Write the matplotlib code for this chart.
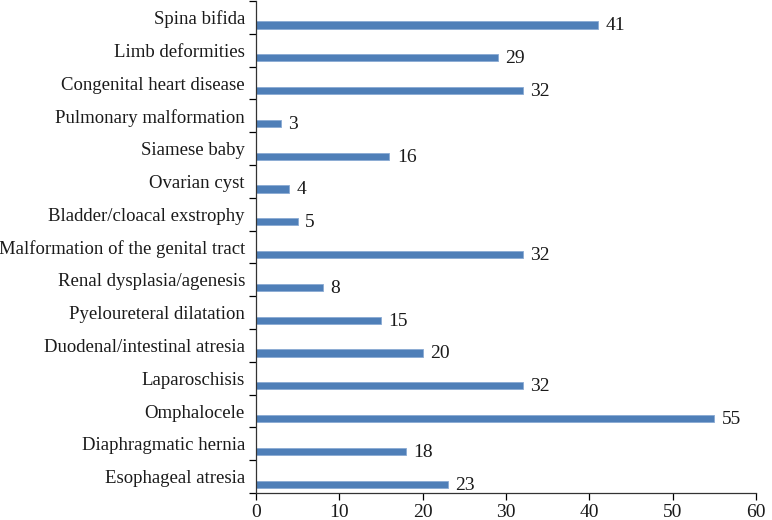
import matplotlib.pyplot as plt
import numpy as np

# categories from bottom to top
categories = [
    'Esophageal atresia',
    'Diaphragmatic hernia',
    'Omphalocele',
    'Laparoschisis',
    'Duodenal/intestinal atresia',
    'Pyeloureteral dilatation',
    'Renal dysplasia/agenesis',
    'Malformation of the genital tract',
    'Bladder/cloacal exstrophy',
    'Ovarian cyst',
    'Siamese baby',
    'Pulmonary malformation',
    'Congenital heart disease',
    'Limb deformities',
    'Spina bifida',
]
counts = [23, 18, 55, 32, 20, 15, 8, 32, 5, 4, 16, 3, 32, 29, 41]
x_ticks = [0, 10, 20, 30, 40, 50, 60]

plt.rcParams['font.family'] = ['Liberation Serif', 'DejaVu Serif']

fig = plt.figure(figsize=(7.72, 5.2), dpi=100)
ax = fig.add_axes([256 / 772, 27 / 520, 500 / 772, 492 / 520])

pos = np.arange(len(categories))
ax.barh(pos - 0.23, counts, height=0.22, color='#4f7fb8', edgecolor='#8aaad3',
        linewidth=0.6)

for p, c in zip(pos, counts):
    ax.text(c + 0.9, p - 0.26, str(c), va='center', ha='left', fontsize=14,
            color='#1a1a1a')

ax.set_xlim(0, 60)
ax.set_ylim(-0.5, len(categories) - 0.5)
ax.set_xticks(x_ticks)
ax.set_xticklabels([str(t) for t in x_ticks], fontsize=14, color='#1a1a1a')

ax.set_yticks(np.arange(len(categories) + 1) - 0.5)
ax.set_yticklabels([])
ax.set_yticks(pos, minor=True)
ax.set_yticklabels(categories, minor=True, fontsize=13.5, color='#1a1a1a')
ax.tick_params(axis='y', which='minor', length=0, pad=8)
ax.tick_params(axis='y', which='major', length=5, direction='out', width=0.9)
ax.tick_params(axis='x', length=5, direction='out', width=0.9, pad=3)

for s in ['top', 'right']:
    ax.spines[s].set_visible(False)
for s in ['left', 'bottom']:
    ax.spines[s].set_linewidth(0.9)
    ax.spines[s].set_color('#333333')

fig.savefig('out.png', dpi=100)
